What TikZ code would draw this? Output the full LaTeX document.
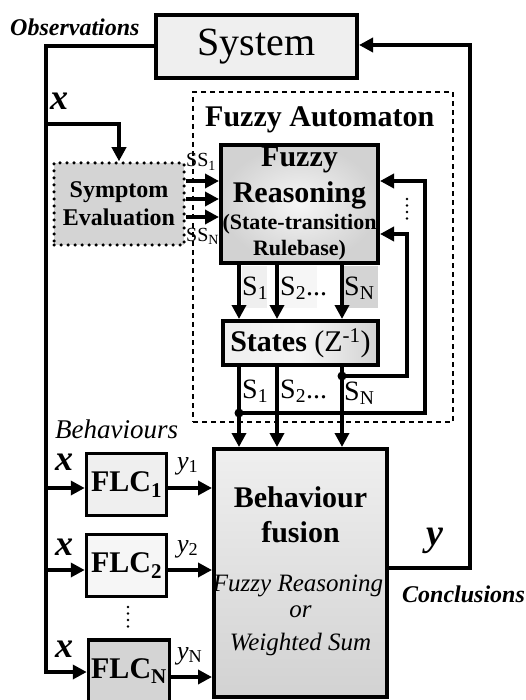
\documentclass[tikz,border=0pt]{standalone}
\usepackage{fontspec}
\setmainfont{Liberation Serif}
\usetikzlibrary{arrows.meta}
\definecolor{boxlight}{HTML}{EFEFEF}
\definecolor{boxvlight}{HTML}{F6F6F6}
\definecolor{boxgray}{HTML}{D4D4D4}
\definecolor{shadeout}{HTML}{D2D2D2}
\definecolor{shadein}{HTML}{F6F6F6}
\newcommand\fsz[1]{\fontsize{#1}{#1}\selectfont}
\begin{document}
\begin{tikzpicture}[x=1pt,y=-1pt,
  box/.style={draw, line width=4pt, rectangle, inner sep=0pt},
  conn/.style={line width=4pt},
  arr/.style={line width=4pt, -{Triangle[length=14pt,width=14pt]}},
  lbl/.style={anchor=base west, inner sep=0pt},
  ctr/.style={anchor=base, inner sep=0pt},
  junc/.style={circle, fill, inner sep=0pt, minimum size=9pt},
  vdots/.style={line width=2.6pt, line cap=round, dash pattern=on 0pt off 6.5pt},
]
\useasboundingbox (0,0) rectangle (526,700);

% ---- System
\node[box, fill=boxlight, minimum width=201pt, minimum height=63pt, font=\fsz{40}] (sys) at (256.5,46.5) {System};
\node[lbl, font=\bfseries\itshape\fsz{24}] (obs) at (10,36) {Observations};

% ---- Fuzzy automaton frame
\node[draw, line width=2pt, dash pattern=on 5pt off 4pt, minimum width=260pt, minimum height=330pt, inner sep=0pt] (fa) at (323,257) {};
\node[lbl, font=\bfseries\fsz{30}] (fat) at (205,127) {Fuzzy Automaton};

% ---- Symptom evaluation
\node[draw, line width=3.5pt, dash pattern=on 0pt off 7pt, line cap=round, fill=boxgray, minimum width=130pt, minimum height=82pt, inner sep=0pt, align=center, font=\bfseries\fontsize{24}{28}\selectfont] (sym) at (119,204) {Symptom\\Evaluation};

% ---- Fuzzy reasoning
\node[box, inner color=shadein, outer color=shadeout, minimum width=157pt, minimum height=118pt] (fr) at (299.5,204) {};
\node[ctr, font=\bfseries\fsz{30}] (fr1) at (299.5,167) {Fuzzy};
\node[ctr, font=\bfseries\fsz{30}] (fr2) at (299.5,203) {Reasoning};
\node[ctr, font=\bfseries\fsz{22}] (fr3) at (299.5,230) {(State-transition};
\node[ctr, font=\bfseries\fsz{22}] (fr4) at (299.5,255) {Rulebase)};

% ---- label backgrounds between FR and States
\fill[boxlight] (242,266) rectangle (267,308);
\fill[boxvlight] (280,266) rectangle (317,308);
\fill[boxgray] (344,266) rectangle (378,308);

% ---- States
\node[box, left color=boxlight, right color=shadeout, middle color=shadein, minimum width=155pt, minimum height=44pt, font=\fsz{30}] (st) at (300.5,343) {\textbf{States} (Z\textsuperscript{-1})};

% ---- Behaviour fusion
\node[box, top color=boxlight, bottom color=shadeout, minimum width=173pt, minimum height=248pt] (bf) at (300.5,573) {};
\node[ctr, font=\bfseries\fsz{30}] (bf1) at (300.5,507) {Behaviour};
\node[ctr, font=\bfseries\fsz{30}] (bf2) at (300.5,542) {fusion};
\node[ctr, font=\itshape\fsz{25}] (bf3) at (298,591) {Fuzzy Reasoning};
\node[ctr, font=\itshape\fsz{25}] (bf4) at (300.5,617) {or};
\node[ctr, font=\itshape\fsz{25}] (bf5) at (300.5,650) {Weighted Sum};

% ---- FLCs
\node[box, line width=3.5pt, fill=boxlight, minimum width=80pt, minimum height=62pt, font=\bfseries\fsz{30}] (flc1) at (126.5,484.5) {FLC\textsubscript{1}};
\node[box, line width=3.5pt, fill=boxvlight, minimum width=80pt, minimum height=62pt, font=\bfseries\fsz{30}] (flc2) at (126.5,565.5) {FLC\textsubscript{2}};
\node[box, line width=3.5pt, fill=boxgray, minimum width=81pt, minimum height=62pt, font=\bfseries\fsz{30}] (flcN) at (129,671) {FLC\textsubscript{N}};
\node[lbl, font=\itshape\fsz{27}] (beh) at (55,438) {Behaviours};

% ---- coordinates
\coordinate (b0) at (46,124);
\coordinate (i1) at (46,488);
\coordinate (i2) at (46,570);
\coordinate (iN) at (46,672);
\coordinate (o1) at (170,488);
\coordinate (o2) at (170,570);
\coordinate (oN) at (170,677);
\coordinate (dN) at (342,376);
\coordinate (d1) at (239,413);
\coordinate (fbN) at (407,376);
\coordinate (fb1) at (425,413);
\coordinate (rl) at (470,568);

% ---- left observation line
\draw[arr] (sys.west) -| (iN) -- (iN -| flcN.west);
\draw[arr] (b0) -| (sym.north);
\draw[arr] (i1) -- (i1 -| flc1.west);
\draw[arr] (i2) -- (i2 -| flc2.west);
\draw[arr] (flc1.east |- o1) -- (bf.west |- o1);
\draw[arr] (flc2.east |- o2) -- (bf.west |- o2);
\draw[arr] (flcN.east |- oN) -- (bf.west |- oN);

% ---- symptom to FR
\foreach \yy in {181,199,217} \draw[arr] (sym.east |- 0,\yy) -- (fr.west |- 0,\yy);

% ---- FR to States, States to BF
\foreach \xx in {239,277,342} {
  \draw[arr] (fr.south -| \xx,0) -- (st.north -| \xx,0);
  \draw[arr] (st.south -| \xx,0) -- (bf.north -| \xx,0);
}

% ---- feedback loops
\draw[arr] (dN) -- (fbN) -- (fbN |- 0,234) -- (fr.east |- 0,234);
\draw[arr] (d1) -- (fb1) -- (fb1 |- 0,181) -- (fr.east |- 0,181);
\node[junc] (jN) at (dN) {};
\node[junc] (j1) at (d1) {};
\draw[vdots] (407,199) -- (407,221);
\draw[vdots] (128,607) -- (128,633);

% ---- conclusions loop
\draw[arr] (bf.east |- rl) -- (rl) -- (rl |- 0,45) -- (sys.east |- 0,45);

% ---- labels
\node[lbl, font=\fsz{20}] (ss1) at (186,167) {SS\textsubscript{1}};
\node[lbl, font=\fsz{20}] (ssN) at (186,241) {SS\textsubscript{N}};
\node[lbl, font=\fsz{28}] (sa1) at (242,295) {S\textsubscript{1}};
\node[lbl, font=\fsz{28}] (sa2) at (280,295) {S\textsubscript{2}...};
\node[lbl, font=\fsz{28}] (saN) at (344,295) {S\textsubscript{N}};
\node[lbl, font=\fsz{28}] (sb1) at (242,398) {S\textsubscript{1}};
\node[lbl, font=\fsz{28}] (sb2) at (280,398) {S\textsubscript{2}...};
\node[lbl, font=\fsz{28}] (sbN) at (344,400) {S\textsubscript{N}};

\node[lbl, font=\bfseries\itshape\fsz{36}] (x0) at (50,110) {x};
\node[lbl, font=\bfseries\itshape\fsz{36}] (x1) at (55,470) {x};
\node[lbl, font=\bfseries\itshape\fsz{36}] (x2) at (55,555) {x};
\node[lbl, font=\bfseries\itshape\fsz{36}] (x3) at (55,657) {x};
\node[lbl, font=\itshape\fsz{26}] (y1) at (177,469) {y\textsubscript{\upshape 1}};
\node[lbl, font=\itshape\fsz{26}] (y2) at (177,552) {y\textsubscript{\upshape 2}};
\node[lbl, font=\itshape\fsz{26}] (yN) at (177,659) {y\textsubscript{\upshape N}};
\node[lbl, font=\bfseries\itshape\fsz{38}] (yy) at (426,545) {y};
\node[lbl, font=\bfseries\itshape\fsz{24}] (concl) at (402,602) {Conclusions};
\end{tikzpicture}
\end{document}
